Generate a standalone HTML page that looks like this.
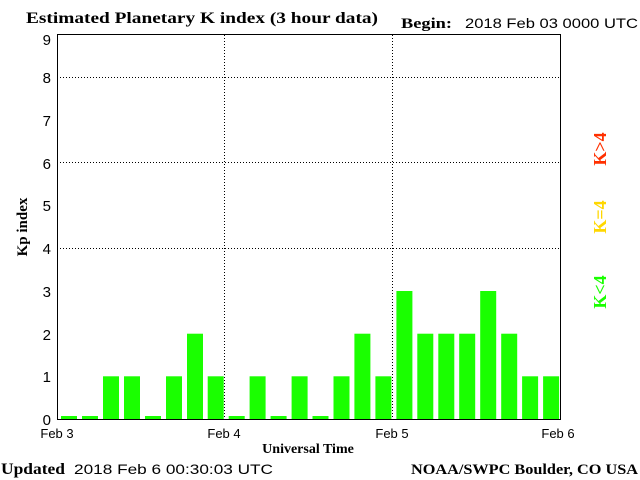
<!DOCTYPE html>
<html><head><style>
body{margin:0;background:#fff;}
svg{display:block}
.s{font-family:"Liberation Serif",serif;font-weight:bold;}
.n{font-family:"Liberation Sans",sans-serif;}
</style></head><body>
<svg width="640" height="480" xmlns="http://www.w3.org/2000/svg">
<rect width="640" height="480" fill="#fff"/>
<text x="26" y="23" class="s" font-size="16" textLength="352" lengthAdjust="spacingAndGlyphs">Estimated Planetary K index (3 hour data)</text>
<text x="401" y="28" class="s" font-size="15" textLength="51" lengthAdjust="spacingAndGlyphs">Begin:</text>
<text x="465" y="28" class="n" font-size="14" textLength="173" lengthAdjust="spacingAndGlyphs">2018 Feb 03 0000 UTC</text>
<g fill="#1aff00">
<rect x="61" y="416" width="16" height="3"/>
<rect x="82" y="416" width="16" height="3"/>
<rect x="103" y="376.3" width="16" height="42.7"/>
<rect x="124" y="376.3" width="16" height="42.7"/>
<rect x="145" y="416" width="16" height="3"/>
<rect x="166" y="376.3" width="16" height="42.7"/>
<rect x="187" y="333.7" width="16" height="85.3"/>
<rect x="207.7" y="376.3" width="16" height="42.7"/>
<rect x="228.7" y="416" width="16" height="3"/>
<rect x="249.6" y="376.3" width="16" height="42.7"/>
<rect x="270.6" y="416" width="16" height="3"/>
<rect x="291.6" y="376.3" width="16" height="42.7"/>
<rect x="312.5" y="416" width="16" height="3"/>
<rect x="333.5" y="376.3" width="16" height="42.7"/>
<rect x="354.4" y="333.7" width="16" height="85.3"/>
<rect x="375.4" y="376.3" width="16" height="42.7"/>
<rect x="396.4" y="291" width="16" height="128"/>
<rect x="417.3" y="333.7" width="16" height="85.3"/>
<rect x="438.3" y="333.7" width="16" height="85.3"/>
<rect x="459.2" y="333.7" width="16" height="85.3"/>
<rect x="480.2" y="291" width="16" height="128"/>
<rect x="501.2" y="333.7" width="16" height="85.3"/>
<rect x="522.1" y="376.3" width="16" height="42.7"/>
<rect x="543.1" y="376.3" width="16" height="42.7"/>
</g>
<g stroke="#000" stroke-width="1" stroke-dasharray="1,2" fill="none">
<line x1="57" y1="77.5" x2="560" y2="77.5"/>
<line x1="57" y1="162.5" x2="560" y2="162.5"/>
<line x1="57" y1="248.5" x2="560" y2="248.5"/>
<line x1="224.5" y1="35" x2="224.5" y2="419"/>
<line x1="392.5" y1="35" x2="392.5" y2="419"/>
</g>
<rect x="57.5" y="34.5" width="503" height="385" fill="none" stroke="#000"/>
<g class="n" font-size="15" text-anchor="end">
<text x="51" y="425">0</text><text x="51" y="382">1</text><text x="51" y="340">2</text>
<text x="51" y="297">3</text><text x="51" y="254">4</text><text x="51" y="211">5</text>
<text x="51" y="169">6</text><text x="51" y="126">7</text><text x="51" y="83">8</text>
<text x="51" y="45">9</text>
</g>
<g class="n" font-size="13" text-anchor="middle">
<text x="57" y="438">Feb 3</text><text x="224" y="438">Feb 4</text>
<text x="392" y="438">Feb 5</text><text x="558" y="438">Feb 6</text>
</g>
<text x="308" y="453" class="s" font-size="14" text-anchor="middle">Universal Time</text>
<text transform="translate(27,227) rotate(-90)" class="s" font-size="15" text-anchor="middle">Kp index</text>
<text transform="translate(606,149) rotate(-90)" class="s" font-size="18" fill="#ff3000" text-anchor="middle">K&gt;4</text>
<text transform="translate(606,217) rotate(-90)" class="s" font-size="18" fill="#ffd700" text-anchor="middle">K=4</text>
<text transform="translate(606,292) rotate(-90)" class="s" font-size="18" fill="#1aff00" text-anchor="middle">K&lt;4</text>
<text x="1" y="474" class="s" font-size="16" textLength="64" lengthAdjust="spacingAndGlyphs">Updated</text>
<text x="74" y="474" class="n" font-size="14" textLength="199" lengthAdjust="spacingAndGlyphs">2018 Feb  6 00:30:03 UTC</text>
<text x="411" y="474" class="s" font-size="15" textLength="227" lengthAdjust="spacingAndGlyphs">NOAA/SWPC Boulder, CO USA</text>
</svg>
</body></html>
